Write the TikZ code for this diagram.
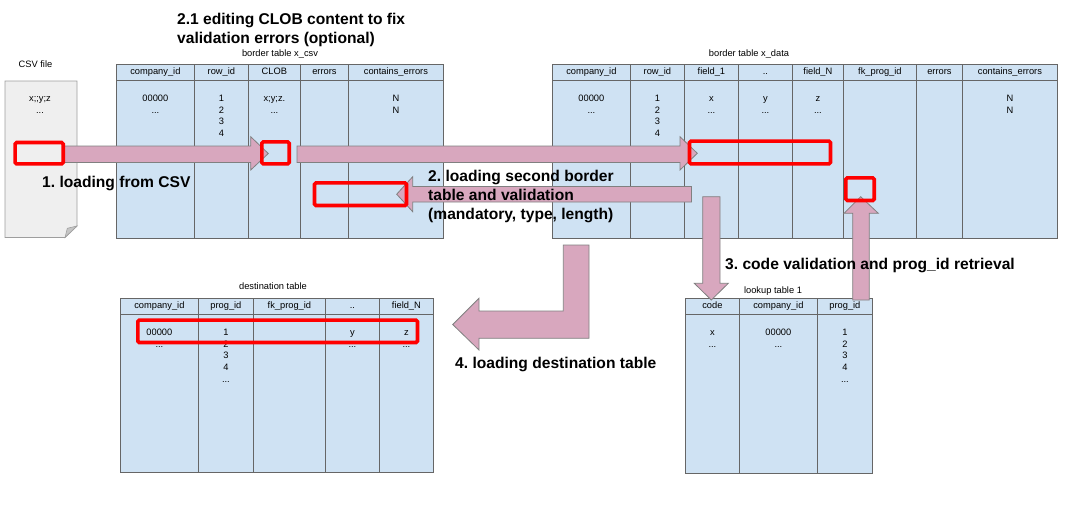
\documentclass[tikz,border=0pt]{standalone}
\usepackage{fontspec}
\setmainfont{Liberation Sans}
\frenchspacing
\definecolor{tblfill}{HTML}{CFE2F3}
\definecolor{tblline}{HTML}{666666}
\definecolor{arrowfill}{HTML}{D8A7BE}
\definecolor{arrowline}{HTML}{808080}
\definecolor{hlred}{HTML}{FF0000}
\definecolor{docfill}{HTML}{EFEFEF}
\definecolor{docline}{HTML}{9E9E9E}
\tikzset{
  hcell/.style={draw=tblline,fill=tblfill,line width=0.8pt,inner sep=0pt,font=\fontsize{9.3}{11}\selectfont,text height=6.9pt,text depth=2pt},
  bcell/.style={draw=tblline,fill=tblfill,line width=0.8pt,inner sep=0pt},
  celltext/.style={inner sep=0pt,align=center,font=\fontsize{9.3}{11.7}\selectfont},
  smalltitle/.style={inner sep=0pt,font=\fontsize{9.3}{11}\selectfont},
  steplabel/.style={inner sep=0pt,align=left,font=\fontsize{15.6}{19}\bfseries\selectfont},
  blockarrow/.style={fill=arrowfill,draw=arrowline,line width=0.8pt,line join=miter},
  hlbox/.style={draw=hlred,line width=3.6pt,rounded corners=1.5pt}
}
\newcommand{\rowstrut}{\rule{0pt}{8pt}}
% #1 name, #2 header top, #3 body top, #4 body bottom, #5 columns
\newcommand{\drawtable}[5]{%
  \foreach \xa/\xb/\hd/\bd [count=\i] in {#5}{
    \node[hcell,anchor=north west,minimum width={(\xb-\xa)*1pt},minimum height={(#3-#2)*1pt}] (#1h\i) at (\xa,#2) {\hd};
    \node[bcell,anchor=north west,minimum width={(\xb-\xa)*1pt},minimum height={(#4-#3)*1pt}] (#1b\i) at (\xa,#3) {};
    \node[celltext,anchor=north] (#1t\i) at ([yshift=-13.3pt]#1b\i.north) {\rowstrut\bd};
  }}
\begin{document}
\begin{tikzpicture}[x=1pt,y=-1pt]
\useasboundingbox (0,0) rectangle (1081,517);
% csv file
\draw[fill=docfill,draw=docline,line width=0.8pt] (5,81)--(77,81)--(77,226)--(65,237.5)--(5,237.5)--cycle;
\draw[fill=docline!60,draw=docline,line width=0.6pt] (77,226)--(65,237.5)--(67.3,228.3)--cycle;
\node[smalltitle,anchor=base] (csvname) at (35.5,67.3) {CSV file};
\node[celltext,anchor=north] (csvrows) at (40,93.3) {\rowstrut x;;y;z\\...};
% tables
\node[smalltitle,anchor=base] (csvtitle) at (280,56) {border table x\_csv};
\drawtable{csv}{64}{80}{238}{116/194/company\_id/{00000\\...},194/248/row\_id/{1\\2\\3\\4},248/300/CLOB/{x;y;z.\\...},300/348/errors/{},348/443/contains\_errors/{N\\N}}
\node[smalltitle,anchor=base] (datatitle) at (749,56) {border table x\_data};
\drawtable{data}{64}{80}{238}{552/630/company\_id/{00000\\...},630/684/row\_id/{1\\2\\3\\4},684/738/field\_1/{x\\...},738/792/../{y\\...},792/843/field\_N/{z\\...},843/916/fk\_prog\_id/{},916/962/errors/{},962/1057/contains\_errors/{N\\N}}
\node[smalltitle,anchor=base] (looktitle) at (773,293) {lookup table 1};
\drawtable{look}{298}{314}{473}{685/739/code/{x\\...},739/817/company\_id/{00000\\...},817/872/prog\_id/{1\\2\\3\\4\\...}}
\node[smalltitle,anchor=base] (desttitle) at (273,289) {destination table};
\drawtable{dest}{298}{314}{472}{120/198/company\_id/{00000\\...},198/253/prog\_id/{1\\2\\3\\4\\...},253/325/fk\_prog\_id/{},325/379/../{y\\...},379/433/field\_N/{z\\...}}
% block arrows
\draw[blockarrow] (63,146)--(250.7,146)--(250.7,136.7)--(268.3,153.5)--(250.7,170)--(250.7,162.5)--(63,162.5)--cycle;
\draw[blockarrow] (297,146)--(680,146)--(680,136.7)--(697.3,153.3)--(680,170)--(680,162.5)--(297,162.5)--cycle;
\draw[blockarrow] (691.5,186.5)--(412.7,186.5)--(412.7,176.7)--(396.7,194.2)--(412.7,211.7)--(412.7,202)--(691.5,202)--cycle;
\draw[blockarrow] (702.7,196.7)--(720,196.7)--(720,283.3)--(728.3,283.3)--(711.3,300)--(694.3,283.3)--(702.7,283.3)--cycle;
\draw[blockarrow] (852.7,300)--(869.3,300)--(869.3,213.3)--(878.3,213.3)--(860.7,196.7)--(844,213.3)--(852.7,213.3)--cycle;
\draw[blockarrow] (563.3,245)--(589,245)--(589,338.3)--(479,338.3)--(479,350)--(452.7,324.5)--(479,298.3)--(479,311)--(563.3,311)--cycle;
% highlights
\draw[hlbox] (15.1,142.5) rectangle (63.2,163.9);
\draw[hlbox] (261.8,141.8) rectangle (289.2,163.9);
\draw[hlbox] (689.5,141.1) rectangle (830.5,163.9);
\draw[hlbox] (314.5,182.8) rectangle (406.5,205.5);
\draw[hlbox] (845.8,177.8) rectangle (874.2,200.5);
\draw[hlbox] (137.8,320.1) rectangle (417.5,342.5);
% step labels
\node[steplabel,anchor=north west] (step21) at (177,12.7) {2.1 editing CLOB content to fix\\validation errors (optional)};
\node[steplabel,anchor=base west] (step1) at (42,187) {1. loading from CSV};
\node[steplabel,anchor=north west] (step2) at (428,169.7) {2. loading second border\\table and validation\\(mandatory, type, length)};
\node[steplabel,anchor=base west] (step3) at (725,269) {3. code validation and prog\_id retrieval};
\node[steplabel,anchor=base west] (step4) at (455,368.5) {4. loading destination table};
\end{tikzpicture}
\end{document}
